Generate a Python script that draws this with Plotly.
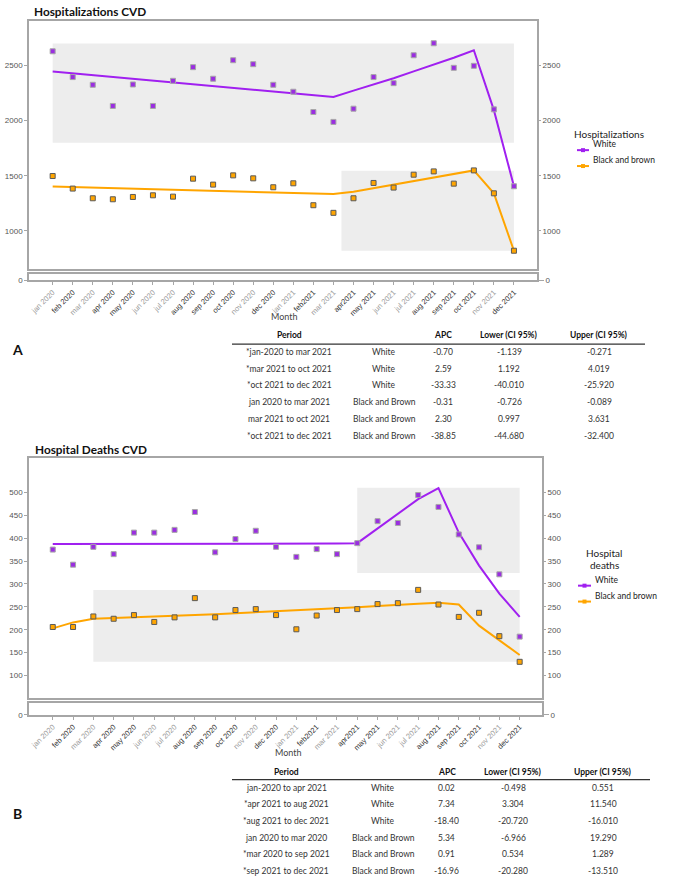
import plotly.graph_objects as go

W, H = 685, 881

months = ["jan 2020", "feb 2020", "mar 2020", "apr 2020", "may 2020", "jun 2020", "jul 2020",
          "aug 2020", "sep 2020", "oct 2020", "nov 2020", "dec 2020", "jan 2021", "feb2021",
          "mar 2021", "apr2021", "may 2021", "jun 2021", "jul 2021", "aug 2021", "sep 2021",
          "oct 2021", "nov 2021", "dec 2021"]
dark_months = {"feb", "apr", "may", "aug", "sep", "oct", "dec"}
month_idx = list(range(len(months)))

# Panel A: hospitalizations
hosp_white = [2629, 2395, 2325, 2133, 2328, 2133, 2361, 2485, 2380, 2548, 2512, 2325,
              2262, 2078, 1988, 2108, 2395, 2340, 2593, 2702, 2479, 2497, 2102, 1404]
hosp_white_fit = [2446, 2429, 2413, 2396, 2380, 2363, 2347, 2330, 2313, 2297, 2280, 2264,
                  2247, 2230, 2214, 2272, 2325, 2385, 2447, 2508, 2570, 2639, 2095, 1404]
hosp_black = [1497, 1383, 1295, 1286, 1307, 1322, 1310, 1473, 1419, 1503, 1476, 1395,
              1431, 1232, 1163, 1295, 1434, 1392, 1509, 1539, 1428, 1548, 1340, 819]
hosp_black_fit = [1401, 1396, 1391, 1387, 1382, 1377, 1372, 1367, 1363, 1358, 1353, 1348,
                  1344, 1339, 1334, 1355, 1387, 1419, 1451, 1484, 1516, 1548, 1340, 819]
hosp_white_band = [0, 23, 1800, 2700]      # x0, x1, y0, y1
hosp_black_band = [14.4, 23, 819, 1545]

# Panel B: hospital deaths
death_white = [375, 342, 381, 365, 412, 412, 418, 457, 369, 398, 416, 381,
               359, 376, 365, 389, 437, 433, 494, 468, 408, 380, 321, 185]
death_white_fit = [387, 387, 387, 387, 387, 387, 387, 388, 388, 388, 388, 388,
                   388, 388, 388, 389, 421, 454, 485, 509, 412, 340, 279, 228]
death_black = [206, 206, 229, 224, 232, 217, 227, 269, 227, 243, 245, 232,
               201, 231, 243, 245, 256, 258, 287, 255, 228, 237, 186, 130]
death_black_fit = [203, 216, 224, 225, 227, 229, 230, 232, 234, 236, 238, 240,
                   242, 245, 247, 249, 252, 255, 257, 259, 255, 209, 176, 145]
death_white_band = [15, 23, 324, 510]
death_black_band = [2, 23, 130, 287]

# Tables
table_header = ["Period", "", "APC", "Lower (CI 95%)", "Upper (CI 95%)"]
groups = ["White", "White", "White", "Black and Brown", "Black and Brown", "Black and Brown"]
periods_a = ["*jan-2020 to mar 2021", "*mar 2021 to oct 2021", "*oct 2021 to dec 2021",
             "jan 2020 to mar 2021", "mar 2021 to oct 2021", "*oct 2021 to dec 2021"]
apc_a = ["-0.70", "2.59", "-33.33", "-0.31", "2.30", "-38.85"]
lower_a = ["-1.139", "1.192", "-40.010", "-0.726", "0.997", "-44.680"]
upper_a = ["-0.271", "4.019", "-25.920", "-0.089", "3.631", "-32.400"]
periods_b = ["jan-2020 to apr 2021", "*apr 2021 to aug 2021", "*aug 2021 to dec 2021",
             "jan 2020 to mar 2020", "*mar 2020 to sep 2021", "*sep 2021 to dec 2021"]
apc_b = ["0.02", "7.34", "-18.40", "5.34", "0.91", "-16.96"]
lower_b = ["-0.498", "3.304", "-20.720", "-6.966", "0.534", "-20.280"]
upper_b = ["0.551", "11.540", "-16.010", "19.290", "1.289", "-13.510"]

PURPLE_LINE = "#A020F0"
PURPLE_MK = "#9A2EE0"
ORANGE = "#FFA500"
BAND = "#EDEDED"
AXC = "#A6A6A6"
TICKF = dict(family="Arial, Liberation Sans", size=8, color="#555")
CAL = "Lato, Open Sans, sans-serif"


def px(p):
    return p / W


def py(p):
    return 1 - p / H


ticktext = []
for m in months:
    c = "#333" if m[:3] in dark_months else "#9a9a9a"
    ticktext.append(f'<span style="color:{c}">{m}</span>')

fig = go.Figure()


def add_panel(xa_main, ya_main, white, white_fit, black, black_fit):
    xk = "x" + xa_main
    yk = "y" + ya_main
    for vals, col in [(white_fit, PURPLE_LINE), (black_fit, ORANGE)]:
        fig.add_trace(go.Scatter(x=month_idx, y=vals, mode="lines", xaxis=xk, yaxis=yk,
                                 line=dict(color=col, width=2), showlegend=False,
                                 hoverinfo="skip"))
    for vals, fill, outline in [(white, PURPLE_MK, "#A8A8A8"), (black, ORANGE, "#5a5a5a")]:
        fig.add_trace(go.Scatter(x=month_idx, y=vals, mode="markers", xaxis=xk, yaxis=yk,
                                 marker=dict(symbol="square", size=5, color=fill,
                                             line=dict(color=outline, width=1)),
                                 showlegend=False, hoverinfo="skip"))


add_panel("2", "", hosp_white, hosp_white_fit, hosp_black, hosp_black_fit)
add_panel("4", "5", death_white, death_white_fit, death_black, death_black_fit)

shapes = []
for band, xr, yr in [(hosp_white_band, "x2", "y"), (hosp_black_band, "x2", "y"),
                     (death_white_band, "x4", "y5"), (death_black_band, "x4", "y5")]:
    shapes.append(dict(type="rect", xref=xr, yref=yr, x0=band[0], x1=band[1], y0=band[2],
                       y1=band[3], fillcolor=BAND, line=dict(width=0), layer="below"))

annotations = []


def txt(x, y, s, size=8.5, bold=False, anchor="center", color="#222", family=CAL):
    if bold:
        s = f"<b>{s}</b>"
    annotations.append(dict(x=px(x), y=py(y), xref="paper", yref="paper", text=s,
                            showarrow=False, xanchor=anchor, yanchor="middle",
                            font=dict(family=family, size=size, color=color)))


# Titles and labels
txt(32, 12, "Hospitalizations CVD", size=11.8, bold=True, anchor="left", color="#111")
txt(33, 452, "Hospital Deaths CVD", size=11.8, bold=True, anchor="left", color="#111")
txt(284, 318, "Month", size=9, color="#444")
txt(288, 757, "Month", size=9, color="#444")
txt(17, 351, "A", size=14, bold=True, color="#111")
txt(17, 818, "B", size=14, bold=True, color="#111")


def legend(title_lines, title_x, title_y, title_anchor, items):
    for i, line in enumerate(title_lines):
        txt(title_x, title_y + i * 12, line, size=10, anchor=title_anchor, color="#222")
    for (label, col, ly, lx0, lx1) in items:
        shapes.append(dict(type="line", xref="paper", yref="paper", x0=px(lx0), x1=px(lx1),
                           y0=py(ly), y1=py(ly), line=dict(color=col, width=2)))
        cx = (lx0 + lx1) / 2
        shapes.append(dict(type="rect", xref="paper", yref="paper", x0=px(cx - 2), x1=px(cx + 2),
                           y0=py(ly + 2), y1=py(ly - 2), fillcolor=col, line=dict(width=0)))
        txt(lx1 + 2, ly - 6, label, size=8.5, anchor="left", color="#222")


legend(["Hospitalizations"], 572, 135, "left",
       [("White", PURPLE_LINE, 151, 577, 589), ("Black and brown", ORANGE, 167, 577, 589)])
legend(["Hospital", "deaths"], 604, 556, "center",
       [("White", PURPLE_LINE, 589, 578, 591), ("Black and brown", ORANGE, 605, 578, 591)])


def table(cols_x, header_y, line_y, line_x0, line_x1, row_y0, periods, apc, lower, upper):
    for cx, h in zip(cols_x, table_header):
        if h:
            txt(cx, header_y, h, size=8.5, bold=True, color="#111")
    shapes.append(dict(type="line", xref="paper", yref="paper", x0=px(line_x0), x1=px(line_x1),
                       y0=py(line_y), y1=py(line_y), line=dict(color="#333", width=1.2)))
    for i in range(len(periods)):
        ry = row_y0 + i * 16.8
        for cx, v in zip(cols_x, [periods[i], groups[i], apc[i], lower[i], upper[i]]):
            txt(cx, ry, v, size=8.5, color="#333")


table([289, 384, 443, 509, 599], 337, 346, 232, 645, 354, periods_a, apc_a, lower_a, upper_a)
table([286, 383, 447, 513, 603], 776, 784, 232, 650, 792, periods_b, apc_b, lower_b, upper_b)

# Axes
common_line = dict(showline=True, linecolor=AXC, linewidth=1.5, mirror=True, showgrid=False,
                   zeroline=False)
xa_dom = [px(29), px(537)]
xb_dom = [px(29), px(542)]
xa_rng = [-1.18, 24.15]
xb_rng = [-1.17, 24.1]
XTICKF = dict(family="Arial, Liberation Sans", size=7.5)

fig.update_layout(
    width=W, height=H, autosize=False, margin=dict(l=0, r=0, t=0, b=0),
    plot_bgcolor="white", paper_bgcolor="white", showlegend=False,
    # Panel A
    xaxis=dict(domain=xa_dom, range=xa_rng, anchor="y3", tickvals=month_idx, ticktext=ticktext,
               tickangle=-45, ticks="outside", ticklen=3, tickcolor=AXC,
               tickfont=XTICKF, **common_line),
    xaxis2=dict(domain=xa_dom, range=xa_rng, anchor="y", showticklabels=False, ticks="",
                **common_line),
    yaxis=dict(domain=[py(271), py(21)], range=[649, 2905], anchor="x2",
               tickvals=[1000, 1500, 2000, 2500], ticks="outside", ticklen=3, tickcolor=AXC,
               tickfont=TICKF, **common_line),
    yaxis2=dict(overlaying="y", side="right", anchor="x2", range=[649, 2905],
                tickvals=[1000, 1500, 2000, 2500], ticks="outside", ticklen=3, tickcolor=AXC,
                tickfont=TICKF, showgrid=False, zeroline=False, showline=False),
    yaxis3=dict(domain=[py(282), py(276)], range=[0, 1], anchor="x", tickvals=[0],
                ticks="outside", ticklen=3, tickcolor=AXC, tickfont=TICKF, **common_line),
    yaxis4=dict(overlaying="y3", side="right", anchor="x", range=[0, 1], tickvals=[0],
                ticks="outside", ticklen=6, tickcolor=AXC, tickfont=TICKF, showgrid=False,
                zeroline=False, showline=False),
    # Panel B
    xaxis3=dict(domain=xb_dom, range=xb_rng, anchor="y7", tickvals=month_idx, ticktext=ticktext,
                tickangle=-45, ticks="outside", ticklen=3, tickcolor=AXC,
                tickfont=XTICKF, **common_line),
    xaxis4=dict(domain=xb_dom, range=xb_rng, anchor="y5", showticklabels=False, ticks="",
                **common_line),
    yaxis5=dict(domain=[py(702), py(461)], range=[51, 574], anchor="x4",
                tickvals=[100, 150, 200, 250, 300, 350, 400, 450, 500], ticks="outside", ticklen=3,
                tickcolor=AXC, tickfont=TICKF, **common_line),
    yaxis6=dict(overlaying="y5", side="right", anchor="x4", range=[51, 574],
                tickvals=[100, 150, 200, 250, 300, 350, 400, 450, 500], ticks="outside",
                ticklen=3, tickcolor=AXC, tickfont=TICKF, showgrid=False, zeroline=False,
                showline=False),
    yaxis7=dict(domain=[py(719), py(707)], range=[0, 1], anchor="x3", tickvals=[0],
                ticks="outside", ticklen=3, tickcolor=AXC, tickfont=TICKF, **common_line),
    yaxis8=dict(overlaying="y7", side="right", anchor="x3", range=[0, 1], tickvals=[0],
                ticks="outside", ticklen=6, tickcolor=AXC, tickfont=TICKF, showgrid=False,
                zeroline=False, showline=False),
    shapes=shapes, annotations=annotations,
)

# invisible traces so overlay / strip axes are drawn
for xk, yk in [("x2", "y2"), ("x", "y3"), ("x", "y4"), ("x4", "y6"), ("x3", "y7"), ("x3", "y8")]:
    fig.add_trace(go.Scatter(x=[0], y=[-1e9], xaxis=xk, yaxis=yk, mode="markers",
                             marker=dict(opacity=0), showlegend=False, hoverinfo="skip"))

fig.write_html("out.html", config={"displayModeBar": False},
               post_script="document.body.style.margin='0px';document.body.style.overflow='hidden';")
